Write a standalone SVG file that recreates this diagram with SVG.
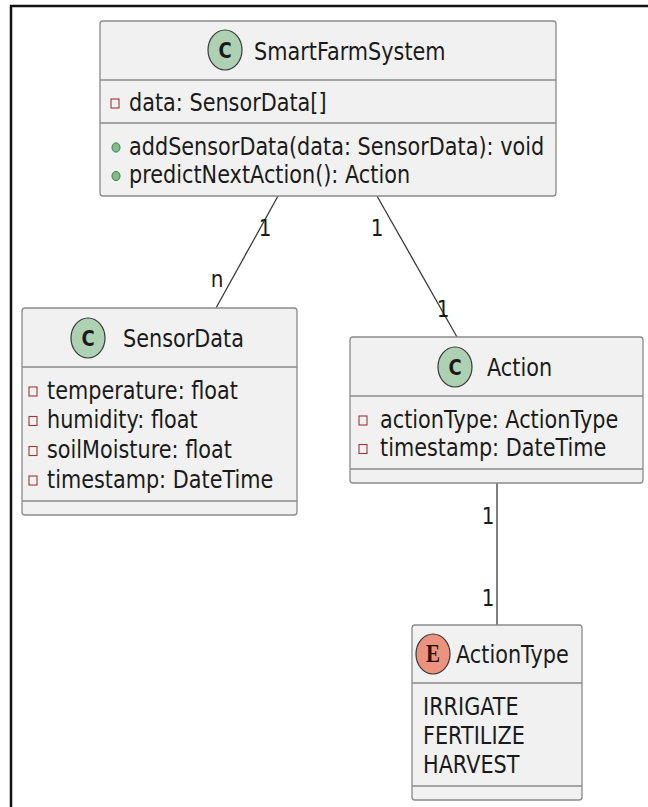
<svg xmlns="http://www.w3.org/2000/svg" width="648" height="807" viewBox="0 0 648 807">
  <style>
    .box { fill: #F1F1F1; stroke: #8a8a8a; stroke-width: 1.3; }
    .div { stroke: #8a8a8a; stroke-width: 1.3; }
    .t { font-family: "DejaVu Sans", "Liberation Sans", sans-serif; font-size: 20.8px; fill: #1a1a1a; }
    .lbl { font-family: "DejaVu Sans", "Liberation Sans", sans-serif; font-size: 20px; fill: #1a1a1a; text-anchor: middle; }
    .cls { fill: #ADD1B2; stroke: #3a3a3a; stroke-width: 1.2; }
    .enm { fill: #EB937F; stroke: #3a3a3a; stroke-width: 1.2; }
    .glyph { font-family: "DejaVu Sans", sans-serif; font-weight: bold; font-size: 18px; fill: #1a1a1a; text-anchor: middle; }
    .eglyph { font-family: "Liberation Serif", "DejaVu Serif", serif; font-weight: bold; font-size: 21px; fill: #2a1010; text-anchor: middle; }
    .priv { fill: none; stroke: #9a3a3a; stroke-width: 1.1; }
    .pub { fill: #84BE84; stroke: #2f7a4f; stroke-width: 1; }
    .edge { stroke: #3a3a3a; stroke-width: 1.3; fill: none; }
    .frame { stroke: #111; stroke-width: 2.5; fill: none; }
  </style>

  <rect width="648" height="807" fill="#ffffff"/>

  <!-- outer frame (left and top edges) -->
  <path class="frame" d="M11,807 V6 H648"/>

  <!-- associations -->
  <g id="connectors">
    <line class="edge" x1="278" y1="196" x2="216" y2="308"/>
    <line class="edge" x1="377" y1="196" x2="457" y2="337"/>
    <line class="edge" x1="497" y1="483" x2="497" y2="625"/>
    <text class="lbl" transform="translate(265,235.5) scale(1,1.18)">1</text>
    <text class="lbl" transform="translate(217,286.5) scale(1,1.18)">n</text>
    <text class="lbl" transform="translate(377,235.5) scale(1,1.18)">1</text>
    <text class="lbl" transform="translate(443,316.5) scale(1,1.18)">1</text>
    <text class="lbl" transform="translate(488,523.5) scale(1,1.18)">1</text>
    <text class="lbl" transform="translate(488,605.5) scale(1,1.18)">1</text>
  </g>

  <!-- class SmartFarmSystem -->
  <g id="SmartFarmSystem">
    <rect class="box" x="100" y="21" width="456" height="175" rx="3"/>
    <line class="div" x1="100" y1="80" x2="556" y2="80"/>
    <line class="div" x1="100" y1="123" x2="556" y2="123"/>
    <ellipse class="cls" cx="225" cy="50" rx="17" ry="20"/>
    <text class="glyph" transform="translate(225,57.8) scale(1,1.2)">C</text>
    <text class="t" transform="translate(254,59.5) scale(1,1.18)">SmartFarmSystem</text>
    <rect class="priv" x="111" y="99" width="8" height="9"/>
    <text class="t" transform="translate(129,110.5) scale(1,1.18)">data: SensorData[]</text>
    <ellipse class="pub" cx="116" cy="147.5" rx="4" ry="4.6"/>
    <text class="t" transform="translate(129,154.5) scale(1,1.18)">addSensorData(data: SensorData): void</text>
    <ellipse class="pub" cx="116" cy="176" rx="4" ry="4.6"/>
    <text class="t" transform="translate(129,183) scale(1,1.18)">predictNextAction(): Action</text>
  </g>

  <!-- class SensorData -->
  <g id="SensorData">
    <rect class="box" x="22" y="308" width="275" height="207" rx="3"/>
    <line class="div" x1="22" y1="367" x2="297" y2="367"/>
    <line class="div" x1="22" y1="501" x2="297" y2="501"/>
    <ellipse class="cls" cx="88" cy="338" rx="17" ry="20"/>
    <text class="glyph" transform="translate(88,345.8) scale(1,1.2)">C</text>
    <text class="t" transform="translate(123,346.5) scale(1,1.18)">SensorData</text>
    <rect class="priv" x="29" y="387" width="8" height="9"/>
    <text class="t" transform="translate(47,398.5) scale(1,1.18)">temperature: float</text>
    <rect class="priv" x="29" y="416.5" width="8" height="9"/>
    <text class="t" transform="translate(47,428) scale(1,1.18)">humidity: float</text>
    <rect class="priv" x="29" y="446.5" width="8" height="9"/>
    <text class="t" transform="translate(47,458) scale(1,1.18)">soilMoisture: float</text>
    <rect class="priv" x="29" y="476" width="8" height="9"/>
    <text class="t" transform="translate(47,487.5) scale(1,1.18)">timestamp: DateTime</text>
  </g>

  <!-- class Action -->
  <g id="Action">
    <rect class="box" x="350" y="337" width="293" height="146" rx="3"/>
    <line class="div" x1="350" y1="396" x2="643" y2="396"/>
    <line class="div" x1="350" y1="469" x2="643" y2="469"/>
    <ellipse class="cls" cx="455" cy="367" rx="17" ry="20"/>
    <text class="glyph" transform="translate(455,374.8) scale(1,1.2)">C</text>
    <text class="t" transform="translate(487,375.5) scale(1,1.18)">Action</text>
    <rect class="priv" x="359" y="416" width="8" height="9"/>
    <text class="t" transform="translate(380,427.5) scale(1,1.18)">actionType: ActionType</text>
    <rect class="priv" x="359" y="444.5" width="8" height="9"/>
    <text class="t" transform="translate(380,456) scale(1,1.18)">timestamp: DateTime</text>
  </g>

  <!-- enum ActionType -->
  <g id="ActionType">
    <rect class="box" x="412" y="625" width="170" height="175" rx="3"/>
    <line class="div" x1="412" y1="683" x2="582" y2="683"/>
    <line class="div" x1="412" y1="786" x2="582" y2="786"/>
    <ellipse class="enm" cx="433" cy="654" rx="17" ry="20"/>
    <text class="eglyph" transform="translate(433,662) scale(1,1.2)">E</text>
    <text class="t" transform="translate(456,663) scale(1,1.18)">ActionType</text>
    <text class="t" transform="translate(423,714.5) scale(1,1.18)">IRRIGATE</text>
    <text class="t" transform="translate(423,743.5) scale(1,1.18)">FERTILIZE</text>
    <text class="t" transform="translate(423,772.5) scale(1,1.18)">HARVEST</text>
  </g>
</svg>
